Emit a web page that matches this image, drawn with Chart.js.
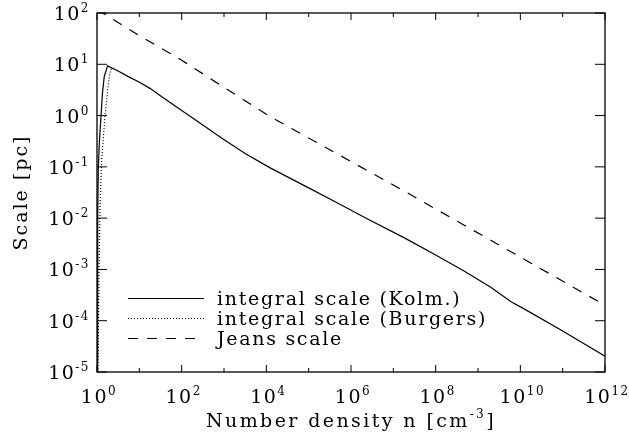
<!DOCTYPE html>
<html>
<head>
<meta charset="utf-8">
<script src="https://cdn.jsdelivr.net/npm/chart.js@4/dist/chart.umd.min.js"></script>
<style>
  html, body { margin: 0; padding: 0; background: #fff; }
  canvas { display: block; }
</style>
</head>
<body>
<canvas id="c" width="629" height="434"></canvas>
<script>
// Number density n [cm^-3] and the corresponding length scales [pc]
const kolmN = [1.0186, 1.028, 1.0375, 1.052, 1.072, 1.135, 1.245, 1.35, 1.48, 1.78,
  3.16, 5.5, 9.55, 17.8, 33.9, 100, 209, 891, 3160, 1.23e4, 1e5, 4.68e5, 2.4e6,
  1.78e7, 1e8, 4.68e8, 2.0e9, 6.03e9, 1.23e10, 1e11, 1e12];
const kolmScale = [1e-5, 1e-4, 1e-3, 1e-2, 0.089, 0.295, 1.0, 2.8, 5.75, 9.3,
  7.4, 5.75, 4.57, 3.39, 2.34, 1.26, 0.83, 0.363, 0.182, 0.0955, 0.0389, 0.020, 0.00977,
  0.00417, 0.00191, 0.000933, 0.000447, 0.000234, 0.00017, 6.3e-5, 2.04e-5];

const burgN = [1.047, 1.084, 1.114, 1.175, 1.29, 1.55, 1.86, 2.09, 2.29];
const burgScale = [1e-5, 1e-4, 7.9e-4, 0.0148, 0.138, 1.0, 4.37, 7.76, 8.3];

const jeansN = [1, 10, 100, 1000, 1.23e4, 1.78e7, 1.23e10, 1e12];
const jeansScale = [117, 36.3, 12.0, 3.55, 0.955, 0.0339, 0.00158, 2.0e-4];

// Axis decorations (powers of ten)
const xMajorExp = [0, 2, 4, 6, 8, 10, 12];
const xMinorExp = [1, 3, 5, 7, 9, 11];
const yMajorExp = [-5, -4, -3, -2, -1, 0, 1, 2];

const seriesLabels = ['integral scale (Kolm.)', 'integral scale (Burgers)', 'Jeans scale'];
const xTitle = ['Number density n [cm', '-3', ']'];
const yTitle = 'Scale [pc]';

const FONT = '"DejaVu Serif", "Liberation Serif", serif';
const dashes = [[], [1, 2], [10, 9]];

function pts(xs, ys) { return xs.map((v, i) => ({ x: v, y: ys[i] })); }

function setFont(ctx, size, spacing) {
  ctx.font = size + 'px ' + FONT;
  ctx.letterSpacing = (spacing === undefined ? 1.5 : spacing) + 'px';
}

// "10" followed by a raised exponent
function powerLabel(ctx, exp, x, baseline, align) {
  setFont(ctx, 19);
  const w1 = ctx.measureText('10').width;
  setFont(ctx, 12);
  const w2 = ctx.measureText(String(exp)).width;
  const total = w1 + w2;
  const start = align === 'right' ? x - total : x - total / 2;
  ctx.textAlign = 'left';
  ctx.textBaseline = 'alphabetic';
  setFont(ctx, 19);
  ctx.fillText('10', start, baseline);
  setFont(ctx, 12);
  ctx.fillText(String(exp), start + w1, baseline - 8);
}

const framePlugin = {
  id: 'frame',
  afterDraw(chart) {
    const { ctx, chartArea: a, scales: { x, y } } = chart;
    ctx.save();
    ctx.strokeStyle = '#000';
    ctx.fillStyle = '#000';
    ctx.lineWidth = 1.3;
    ctx.setLineDash([]);
    ctx.strokeRect(a.left, a.top, a.right - a.left, a.bottom - a.top);

    ctx.lineWidth = 1;
    ctx.beginPath();
    xMajorExp.forEach(e => {
      const px = x.getPixelForValue(Math.pow(10, e));
      ctx.moveTo(px, a.bottom); ctx.lineTo(px, a.bottom - 7);
      ctx.moveTo(px, a.top); ctx.lineTo(px, a.top + 7);
    });
    xMinorExp.forEach(e => {
      const px = x.getPixelForValue(Math.pow(10, e));
      ctx.moveTo(px, a.bottom); ctx.lineTo(px, a.bottom - 4);
      ctx.moveTo(px, a.top); ctx.lineTo(px, a.top + 4);
    });
    yMajorExp.forEach(e => {
      const py = y.getPixelForValue(Math.pow(10, e));
      ctx.moveTo(a.left, py); ctx.lineTo(a.left + 10, py);
      ctx.moveTo(a.right, py); ctx.lineTo(a.right - 10, py);
    });
    ctx.stroke();

    // tick labels
    xMajorExp.forEach(e => {
      powerLabel(ctx, e, x.getPixelForValue(Math.pow(10, e)) + 2, a.bottom + 31, 'center');
    });
    yMajorExp.forEach(e => {
      powerLabel(ctx, e, a.left - 7, y.getPixelForValue(Math.pow(10, e)) + 7, 'right');
    });

    // x title with superscript
    const sp = 2.4;
    setFont(ctx, 19, sp);
    const t0 = ctx.measureText(xTitle[0]).width;
    const t2 = ctx.measureText(xTitle[2]).width;
    setFont(ctx, 12, sp);
    const t1 = ctx.measureText(xTitle[1]).width;
    const cx = (a.left + a.right) / 2;
    const sx = cx - (t0 + t1 + t2) / 2;
    const by = a.bottom + 55;
    ctx.textAlign = 'left';
    ctx.textBaseline = 'alphabetic';
    setFont(ctx, 19, sp);
    ctx.fillText(xTitle[0], sx, by);
    setFont(ctx, 12, sp);
    ctx.fillText(xTitle[1], sx + t0, by - 9);
    setFont(ctx, 19, sp);
    ctx.fillText(xTitle[2], sx + t0 + t1, by);

    // y title
    ctx.save();
    ctx.translate(27, (a.top + a.bottom) / 2);
    ctx.rotate(-Math.PI / 2);
    setFont(ctx, 19, 2);
    ctx.textAlign = 'center';
    ctx.textBaseline = 'alphabetic';
    ctx.fillText(yTitle, 0, 0);
    ctx.restore();

    // legend inside the plot
    const rows = [a.bottom - 74.5, a.bottom - 54, a.bottom - 34];
    chart.data.datasets.forEach((ds, i) => {
      const ly = Math.round(rows[i]) + 0.5;
      ctx.beginPath();
      ctx.lineWidth = 1.2;
      ctx.setLineDash(ds.borderDash || []);
      ctx.moveTo(a.left + 31, ly);
      ctx.lineTo(a.left + 107, ly);
      ctx.stroke();
      ctx.setLineDash([]);
      setFont(ctx, 19, 1.7);
      ctx.textAlign = 'left';
      ctx.textBaseline = 'alphabetic';
      ctx.fillText(ds.label, a.left + 120, ly + 6);
    });
    ctx.restore();
  }
};

const series = [
  pts(kolmN, kolmScale),
  pts(burgN, burgScale),
  pts(jeansN, jeansScale)
];

new Chart(document.getElementById('c').getContext('2d'), {
  type: 'line',
  data: {
    datasets: series.map((d, i) => ({
      label: seriesLabels[i],
      data: d,
      borderColor: '#000',
      borderWidth: 1.2,
      borderDash: dashes[i],
      pointRadius: 0,
      fill: false,
      tension: 0
    }))
  },
  options: {
    responsive: false,
    animation: false,
    devicePixelRatio: 1,
    layout: { padding: { left: 97, right: 24, top: 13, bottom: 62 } },
    plugins: { legend: { display: false }, tooltip: { enabled: false } },
    scales: {
      x: { type: 'logarithmic', min: 1, max: 1e12, display: false },
      y: { type: 'logarithmic', min: 1e-5, max: 100, display: false }
    }
  },
  plugins: [framePlugin]
});
</script>
</body>
</html>
